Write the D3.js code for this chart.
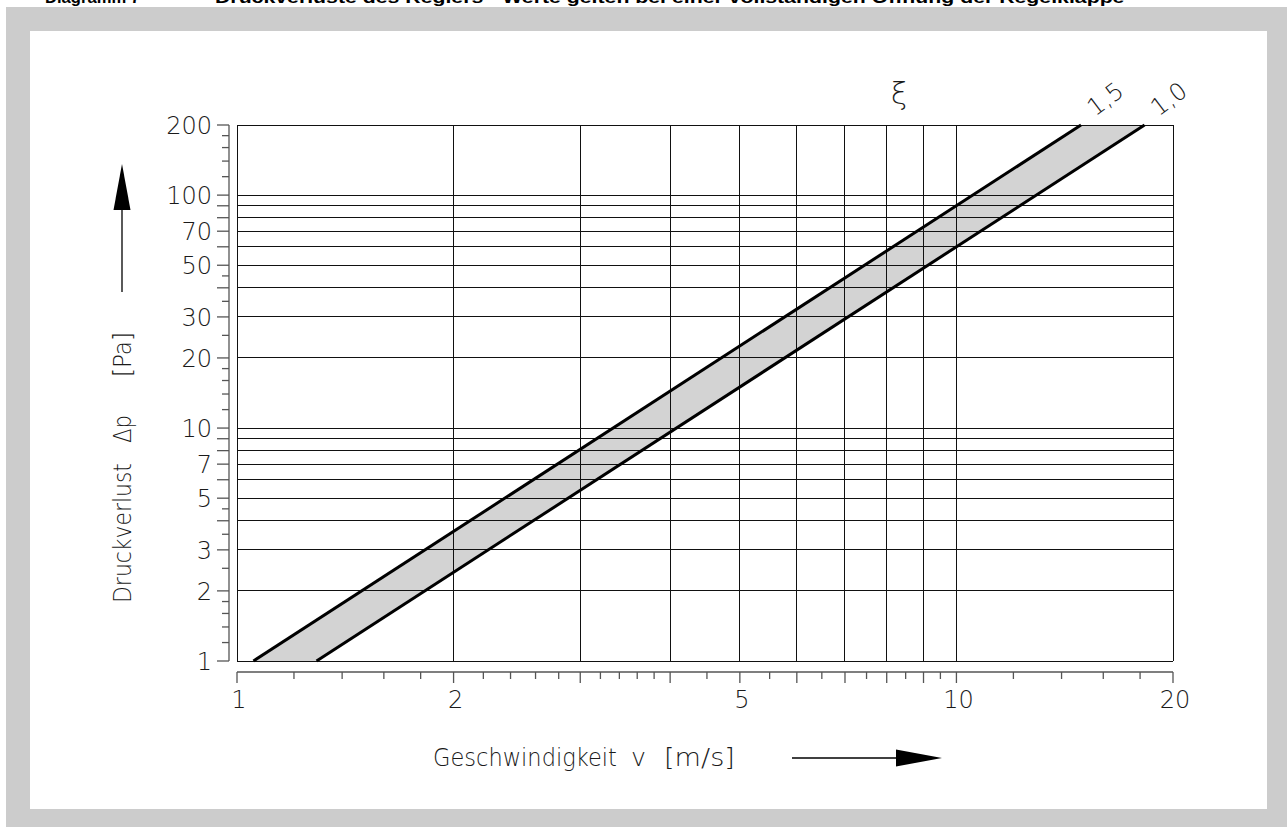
<!DOCTYPE html>
<html>
<head>
<meta charset="utf-8">
<script src="https://cdn.jsdelivr.net/npm/d3@7"></script>
<style>
  body { margin: 0; background: #fff; }
  svg { display: block; }
  .thin { font-family: "DejaVu Sans", sans-serif; font-weight: 200; fill: #1a1a1a; }
  .head { font-family: "Liberation Sans", Arial, sans-serif; font-weight: bold; fill: #000; }
</style>
</head>
<body>
<div id="chart"></div>
<script>
// Data
const pressure = [1, 200];          // Δp [Pa] at both ends of each line
const vXi15 = [1.054, 14.9];        // v [m/s] for ξ = 1,5
const vXi10 = [1.29, 18.26];        // v [m/s] for ξ = 1,0
const xiLabels = ["1,5", "1,0"];

// Axis ticks
const xGrid = [1, 2, 3, 4, 5, 6, 7, 8, 9, 10, 20];
const xMinor = [1.2, 1.4, 1.6, 1.8, 2.2, 2.4, 2.6, 2.8, 3.2, 3.4, 3.6, 3.8, 4.5, 5.5, 6.5, 7.5, 8.5, 9.5, 12, 14, 16, 18];
const xLabels = [1, 2, 5, 10, 20];
const yGrid = [1, 2, 3, 4, 5, 6, 7, 8, 9, 10, 20, 30, 40, 50, 60, 70, 80, 90, 100, 200];
const yMinor = [1.2, 1.4, 1.6, 1.8, 2.5, 3.5, 4.5, 12, 14, 16, 18, 25, 35, 45, 120, 140, 160, 180];
const yLabels = [1, 2, 3, 5, 7, 10, 20, 30, 50, 70, 100, 200];

const W = 1287, H = 827;
const plot = { left: 237, right: 1173, top: 125, bottom: 661 };
const yAxisX = 229, xAxisY = 672;

const svg = d3.select("#chart").append("svg")
  .attr("width", W)
  .attr("height", H);

// Helper: put a text at (px,py), rotate it, and stretch it to a given length
function fitText(t, px, py, len, angle, size, cls) {
  const el = svg.append("text").attr("class", cls).attr("font-size", size).text(t);
  const w = el.node().getComputedTextLength();
  el.attr("transform", `translate(${px},${py}) rotate(${angle}) scale(${len / w},1)`);
  return el;
}

// Gray frame with white panel
svg.append("rect").attr("x", 6).attr("y", 7).attr("width", W - 6).attr("height", H - 7).attr("fill", "#cccccc");
svg.append("rect").attr("x", 30).attr("y", 31).attr("width", 1237).attr("height", 778).attr("fill", "#fff");

// Header (cut off at the top of the page, as in the source)
fitText("Diagramm 7", 45, 3, 95, 0, 16, "head");
fitText("Druckverluste des Reglers - Werte gelten bei einer vollständigen Öffnung der Regelklappe", 215, 3, 910, 0, 16, "head");

// Scales
const x = d3.scaleLog().domain([1, 20]).range([plot.left, plot.right]);
const y = d3.scaleLog().domain([1, 200]).range([plot.bottom, plot.top]);

// Band between the two lines
const band = vXi15.map((v, i) => [x(v), y(pressure[i])])
  .concat(vXi10.map((v, i) => [x(v), y(pressure[i])]).reverse());
svg.append("path")
  .attr("d", d3.line()(band) + "Z")
  .attr("fill", "#d3d3d3");

// Grid
const grid = svg.append("g").attr("stroke", "#111").attr("stroke-width", 1).attr("shape-rendering", "crispEdges");
grid.selectAll(".vg").data(xGrid).enter().append("line")
  .attr("x1", d => x(d)).attr("x2", d => x(d))
  .attr("y1", plot.top).attr("y2", plot.bottom);
grid.selectAll(".hg").data(yGrid).enter().append("line")
  .attr("x1", plot.left).attr("x2", plot.right)
  .attr("y1", d => y(d)).attr("y2", d => y(d));

// Lines for ξ = 1,5 and 1,0
const line = d3.line().x(d => x(d[0])).y(d => y(d[1]));
[vXi15, vXi10].forEach(vs => {
  svg.append("path")
    .datum(vs.map((v, i) => [v, pressure[i]]))
    .attr("d", line)
    .attr("fill", "none")
    .attr("stroke", "#000")
    .attr("stroke-width", 3);
});

// Y axis (detached, left of the plot)
const yAx = svg.append("g").attr("stroke", "#555").attr("stroke-width", 1.3);
yAx.append("line").attr("x1", yAxisX).attr("x2", yAxisX).attr("y1", plot.top).attr("y2", plot.bottom);
yAx.selectAll(".ymaj").data(yGrid).enter().append("line")
  .attr("x1", yAxisX - 12).attr("x2", yAxisX)
  .attr("y1", d => y(d)).attr("y2", d => y(d));
yAx.selectAll(".ymin").data(yMinor).enter().append("line")
  .attr("x1", yAxisX - 7).attr("x2", yAxisX)
  .attr("y1", d => y(d)).attr("y2", d => y(d));
svg.selectAll(".ylab").data(yLabels).enter().append("text")
  .attr("class", "thin")
  .attr("x", 212).attr("y", d => y(d) + 9)
  .attr("text-anchor", "end").attr("font-size", 24)
  .text(d => d);

// X axis (detached, below the plot)
const xAx = svg.append("g").attr("stroke", "#555").attr("stroke-width", 1.3);
xAx.append("line").attr("x1", plot.left).attr("x2", plot.right).attr("y1", xAxisY).attr("y2", xAxisY);
xAx.selectAll(".xmaj").data(xGrid).enter().append("line")
  .attr("x1", d => x(d)).attr("x2", d => x(d))
  .attr("y1", xAxisY).attr("y2", xAxisY + 11);
xAx.selectAll(".xmin").data(xMinor).enter().append("line")
  .attr("x1", d => x(d)).attr("x2", d => x(d))
  .attr("y1", xAxisY).attr("y2", xAxisY + 7);
svg.selectAll(".xlab").data(xLabels).enter().append("text")
  .attr("class", "thin")
  .attr("x", d => x(d) + 2).attr("y", 708)
  .attr("text-anchor", "middle").attr("font-size", 24)
  .text(d => d);

// ξ and curve labels
svg.append("text").attr("class", "thin")
  .attr("x", 899).attr("y", 104).attr("text-anchor", "middle").attr("font-size", 30)
  .text("ξ");
xiLabels.forEach((t, i) => {
  const vx = i === 0 ? vXi15[1] : vXi10[1];
  const px = x(vx) + 14, py = y(pressure[1]) - 8;
  svg.append("text").attr("class", "thin")
    .attr("transform", `translate(${px},${py}) rotate(-37)`)
    .attr("font-size", 24)
    .text(t);
});

// Axis titles
const xTitle = [
  { t: "Geschwindigkeit", x0: 433, len: 184 },
  { t: "v", x0: 631, len: 15 },
  { t: "[m/s]", x0: 664, len: 71 }
];
xTitle.forEach(p => fitText(p.t, p.x0, 766, p.len, 0, 24, "thin"));

const yTitle = [
  { t: "Druckverlust", y0: 603, len: 140 },
  { t: "Δp", y0: 443, len: 28 },
  { t: "[Pa]", y0: 377, len: 45 }
];
yTitle.forEach(p => fitText(p.t, 131, p.y0, p.len, -90, 25, "thin"));

// Direction arrows
svg.append("line").attr("x1", 122).attr("x2", 122).attr("y1", 292).attr("y2", 205)
  .attr("stroke", "#000").attr("stroke-width", 1.3);
svg.append("path").attr("d", "M122,164 L113.5,210 L130.5,210 Z").attr("fill", "#000");
svg.append("line").attr("x1", 792).attr("x2", 900).attr("y1", 758).attr("y2", 758)
  .attr("stroke", "#000").attr("stroke-width", 1.3);
svg.append("path").attr("d", "M942,758 L896,749.5 L896,766.5 Z").attr("fill", "#000");
</script>
</body>
</html>
